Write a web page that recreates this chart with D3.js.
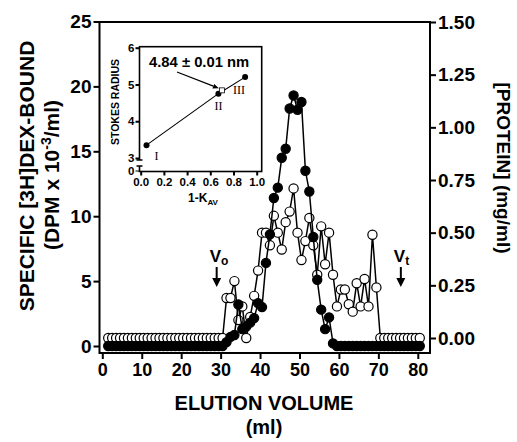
<!DOCTYPE html>
<html>
<head>
<meta charset="utf-8">
<script src="https://cdn.jsdelivr.net/npm/d3@7/dist/d3.min.js"></script>
<style>
body { margin: 0; background: #fff; }
svg text { font-family: "Liberation Sans", Arial, sans-serif; font-weight: bold; fill: #000; }
.roman { font-family: "Liberation Serif", "Times New Roman", serif; font-weight: normal; }
</style>
</head>
<body>
<div class="chart"></div>
<script>
/* Global Constants
============================================= */
const SVG_WIDTH = 517;
const SVG_HEIGHT = 442;

// elution volume of each fraction (ml)
const volumes = [1.5,2.5,3.5,4.5,5.5,6.5,7.5,8.5,9.5,10.5,11.5,12.5,13.5,14.5,15.5,16.5,17.5,18.5,19.5,20.5,
                 21.5,22.5,23.5,24.5,25.5,26.5,27.5,28.5,29.5,30.5,31.5,32.5,33.5,34.5,35.5,36.5,37.5,38.5,39.5,40.5,
                 41.5,42.5,43.5,44.5,45.5,46.5,47.5,48.5,49.5,50.5,51.5,52.5,53.5,54.5,55.5,56.5,57.5,58.5,59.5,60.5,
                 61.5,62.5,63.5,64.5,65.5,66.5,67.5,68.5,69.5,70.5,71.5,72.5,73.5,74.5,75.5,76.5,77.5,78.5,79.5,80.5];

// specific [3H]dex bound (DPM x 10^-3 / ml) - filled circles, left axis
const dexBound = [0,0,0,0,0,0,0,0,0,0, 0,0,0,0,0,0,0,0,0,0,
                  0,0,0,0,0,0,0,0,0,0, 0.3,0.7,0.85,3.2,1.3,1.5,1.8,2.15,3.3,3.0,
                  6.4,8.6,11.4,12.2,14.5,15.2,18.3,19.3,18.2,18.8, 13.5,11.9,8.4,5.1,2.8,1.3,2.2,0.2,0,0,
                  0,0,0,0,0,0,0,0,0,0, 0,0,0,0,0,0,0,0,0,0];

// protein (mg/ml) - open circles, right axis
const protein = [0,0,0,0,0,0,0,0,0,0, 0,0,0,0,0,0,0,0,0,0,
                 0,0,0,0,0,0,0,0,0,0, 0.19,0.19,0.27,0.085,0.15,0.0,0.1,0.2,0.32,0.50,
                 0.50,0.44,0.58,0.50,0.42,0.55,0.60,0.71,0.50,0.37, 0.46,0.57,0.44,0.30,0.53,0.35,0.50,0.30,0.15,0.23,
                 0.23,0.16,0.125,0.26,0.15,0.28,0.15,0.49,0.24,0, 0,0,0,0,0,0,0,0,0,0];

const xTicks = [0,10,20,30,40,50,60,70,80];
const yLeftTicks = [0,5,10,15,20,25];
const yRightTicks = [0,0.25,0.5,0.75,1.0,1.25,1.5];

// void / total volume markers (ml)
const VO_ML = 29;
const VT_ML = 75.7;

// inset: stokes radius calibration
const stdNames  = ["I", "II", "III"];
const stdKav    = [0.05, 0.67, 0.90];
const stdRadius = [3.35, 4.75, 5.2];
const estKav = 0.70;
const estRadius = 4.84;
const insetXTicks = [0,0.2,0.4,0.6,0.8,1.0];
const insetYTicks = [3,4,5,6];

/* Layout
============================================= */
var frame = { left: 99.5, right: 430, top: 22, bottom: 353 };
var inset = { left: 139.5, right: 261.7, top: 46.7, bottom: 171.5 };

var svg = d3.select(".chart")
    .append("svg")
    .attr("width", SVG_WIDTH)
    .attr("height", SVG_HEIGHT);

var xScale = d3.scaleLinear().domain([0, 80]).range([102.3, 417.8]);
var yLeft = d3.scaleLinear().domain([0, 25]).range([346, 21.5]);
var yRight = d3.scaleLinear().domain([0, 1.5]).range([338, 22]);

//****************** frame + axes *****************************//
svg.append("path")
    .attr("d", `M${frame.left},${frame.bottom}V${frame.top}H${frame.right}V${frame.bottom}Z`)
    .attr("fill", "none")
    .attr("stroke", "#000")
    .attr("stroke-width", 2);

var leftAxis = svg.append("g")
    .attr("transform", `translate(${frame.left},0)`)
    .call(d3.axisLeft(yLeft).tickValues(yLeftTicks).tickSize(6).tickPadding(2));
styleAxis(leftAxis, 19);

var rightAxis = svg.append("g")
    .attr("transform", `translate(${frame.right},0)`)
    .call(d3.axisRight(yRight).tickValues(yRightTicks).tickSize(6).tickPadding(2)
        .tickFormat(d3.format(".2f")));
styleAxis(rightAxis, 19);

var bottomAxis = svg.append("g")
    .attr("transform", `translate(0,${frame.bottom})`)
    .call(d3.axisBottom(xScale).tickValues(xTicks).tickSize(6).tickPadding(4));
styleAxis(bottomAxis, 18);

// axis titles
svg.append("text")
    .attr("transform", "translate(34,176) rotate(-90)")
    .attr("text-anchor", "middle")
    .style("font-size", "21px")
    .text("SPECIFIC [3H]DEX-BOUND");

var t2 = svg.append("text")
    .attr("transform", "translate(59,175) rotate(-90)")
    .attr("text-anchor", "middle")
    .style("font-size", "21px");
t2.append("tspan").text("(DPM x 10");
t2.append("tspan").attr("dy", -8).style("font-size", "14px").text("-3");
t2.append("tspan").attr("dy", 8).text("/ml)");

svg.append("text")
    .attr("transform", "translate(497,168) rotate(90)")
    .attr("text-anchor", "middle")
    .style("font-size", "19px")
    .text("[PROTEIN] (mg/ml)");

svg.append("text")
    .attr("x", 264).attr("y", 410)
    .attr("text-anchor", "middle")
    .style("font-size", "20px")
    .text("ELUTION VOLUME");

svg.append("text")
    .attr("x", 264).attr("y", 434)
    .attr("text-anchor", "middle")
    .style("font-size", "20px")
    .text("(ml)");

//****************** series *****************************//
var protData = volumes.map(function(v, i) { return { ml: v, val: protein[i] }; });
var dexData = volumes.map(function(v, i) { return { ml: v, val: dexBound[i] }; });

drawSeries(protData, yRight, "#fff");
drawSeries(dexData, yLeft, "#000");

//****************** Vo / Vt markers *****************************//
drawMarker(VO_ML, "o");
drawMarker(VT_ML, "t");

//****************** inset *****************************//
var ix = d3.scaleLinear().domain([0, 1]).range([140.7, 256.7]);
var iy = d3.scaleLinear().domain([3, 6]).range([158, 47.7]);
var iy0 = 171;

svg.append("rect")
    .attr("x", inset.left).attr("y", inset.top)
    .attr("width", inset.right - inset.left)
    .attr("height", inset.bottom - inset.top)
    .attr("fill", "#fff")
    .attr("stroke", "#000")
    .attr("stroke-width", 1.6);

// break in the inset y axis
svg.append("rect")
    .attr("x", inset.left - 2).attr("y", 160)
    .attr("width", 4).attr("height", 6)
    .attr("fill", "#fff");
svg.append("path")
    .attr("d", `M${inset.left - 3},160H${inset.left + 3}M${inset.left - 3},166H${inset.left + 3}`)
    .attr("stroke", "#000").attr("stroke-width", 1.4);

var insetY = svg.append("g")
    .attr("transform", `translate(${inset.left},0)`)
    .call(d3.axisLeft(iy).tickValues(insetYTicks).tickSize(4).tickPadding(1).tickFormat(d3.format("d")));
insetY.append("line").attr("x1", -4).attr("x2", 0).attr("y1", iy0).attr("y2", iy0).attr("stroke", "#000");
insetY.append("text").attr("x", -5).attr("y", iy0).attr("dy", "0.32em")
    .attr("text-anchor", "end").style("font-size", "11.5px").text("0");
styleAxis(insetY, 11.5);

var insetX = svg.append("g")
    .attr("transform", `translate(0,${inset.bottom})`)
    .call(d3.axisBottom(ix).tickValues(insetXTicks).tickSize(4).tickPadding(2).tickFormat(d3.format(".1f")));
styleAxis(insetX, 11.5);

svg.append("text")
    .attr("transform", `translate(119,102) rotate(-90)`)
    .attr("text-anchor", "middle")
    .style("font-size", "10.5px")
    .text("STOKES RADIUS");

var kav = svg.append("text")
    .attr("x", 203).attr("y", 202)
    .attr("text-anchor", "middle")
    .style("font-size", "12px");
kav.append("tspan").text("1-K");
kav.append("tspan").attr("dy", 3).style("font-size", "8px").text("AV");

var stdData = stdKav.map(function(k, i) { return { k: k, r: stdRadius[i], name: stdNames[i] }; });

svg.append("path")
    .datum(stdData)
    .attr("fill", "none")
    .attr("stroke", "#000")
    .attr("stroke-width", 1.1)
    .attr("d", d3.line().x(function(d) { return ix(d.k); }).y(function(d) { return iy(d.r); }));

svg.selectAll(".std")
    .data(stdData)
    .enter()
    .append("circle")
    .attr("cx", function(d) { return ix(d.k); })
    .attr("cy", function(d) { return iy(d.r); })
    .attr("r", 3)
    .attr("fill", "#000");

var romanOffset = { "I": [10, 15], "II": [0, 16], "III": [-6, 17] };
svg.selectAll(".roman")
    .data(stdData)
    .enter()
    .append("text")
    .attr("class", "roman")
    .attr("x", function(d) { return ix(d.k) + romanOffset[d.name][0]; })
    .attr("y", function(d) { return iy(d.r) + romanOffset[d.name][1]; })
    .attr("text-anchor", "middle")
    .style("font-size", "12px")
    .text(function(d) { return d.name; });

svg.append("rect")
    .attr("x", ix(estKav) - 2.5).attr("y", iy(estRadius) - 2.5)
    .attr("width", 5).attr("height", 5)
    .attr("fill", "#fff").attr("stroke", "#000").attr("stroke-width", 0.8);

svg.append("text")
    .attr("x", 149).attr("y", 67)
    .style("font-size", "14.8px")
    .text("4.84 \u00b1 0.01 nm");

drawArrow(svg, 177, 72, ix(estKav) - 3, iy(estRadius) - 2, 1.3, 6);

/* Functions
============================================= */

/*
 * common axis styling
 */
function styleAxis(axis, fontSize) {
    axis.select(".domain").remove();
    axis.selectAll(".tick line").attr("stroke", "#000").attr("stroke-width", 2);
    axis.selectAll("text")
        .style("font-size", fontSize + "px")
        .style("font-family", "'Liberation Sans', Arial, sans-serif")
        .style("font-weight", "bold")
        .attr("fill", "#000");
}

/*
 * line + circles for one series
 */
function drawSeries(data, yScale, fill) {
    svg.append("path")
        .datum(data)
        .attr("fill", "none")
        .attr("stroke", "#000")
        .attr("stroke-width", 1.5)
        .attr("d", d3.line()
            .x(function(d) { return xScale(d.ml); })
            .y(function(d) { return yScale(d.val); }));

    svg.append("g").selectAll("circle")
        .data(data)
        .enter()
        .append("circle")
        .attr("cx", function(d) { return xScale(d.ml); })
        .attr("cy", function(d) { return yScale(d.val); })
        .attr("r", 4.6)
        .attr("fill", fill)
        .attr("stroke", "#000")
        .attr("stroke-width", 1.2);
}

/*
 * V0 / Vt labelled down arrow
 */
function drawMarker(ml, sub) {
    var cx = xScale(ml);
    var lab = svg.append("text")
        .attr("x", cx - 7).attr("y", 262)
        .style("font-size", "17px");
    lab.append("tspan").text("V");
    lab.append("tspan").attr("dy", 3).style("font-size", "12px").text(sub);

    svg.append("line")
        .attr("x1", cx).attr("x2", cx)
        .attr("y1", 267).attr("y2", 280)
        .attr("stroke", "#000").attr("stroke-width", 2);
    svg.append("path")
        .attr("d", `M${cx - 4.5},278L${cx + 4.5},278L${cx},287Z`)
        .attr("fill", "#000");
}

/*
 * straight arrow with a filled head
 */
function drawArrow(g, x1, y1, x2, y2, w, head) {
    var a = Math.atan2(y2 - y1, x2 - x1);
    var bx = x2 - head * Math.cos(a), by = y2 - head * Math.sin(a);
    g.append("line")
        .attr("x1", x1).attr("y1", y1).attr("x2", bx).attr("y2", by)
        .attr("stroke", "#000").attr("stroke-width", w);
    var px = -Math.sin(a) * head * 0.4, py = Math.cos(a) * head * 0.4;
    g.append("path")
        .attr("d", `M${x2},${y2}L${bx + px},${by + py}L${bx - px},${by - py}Z`)
        .attr("fill", "#000");
}
</script>
</body>
</html>
